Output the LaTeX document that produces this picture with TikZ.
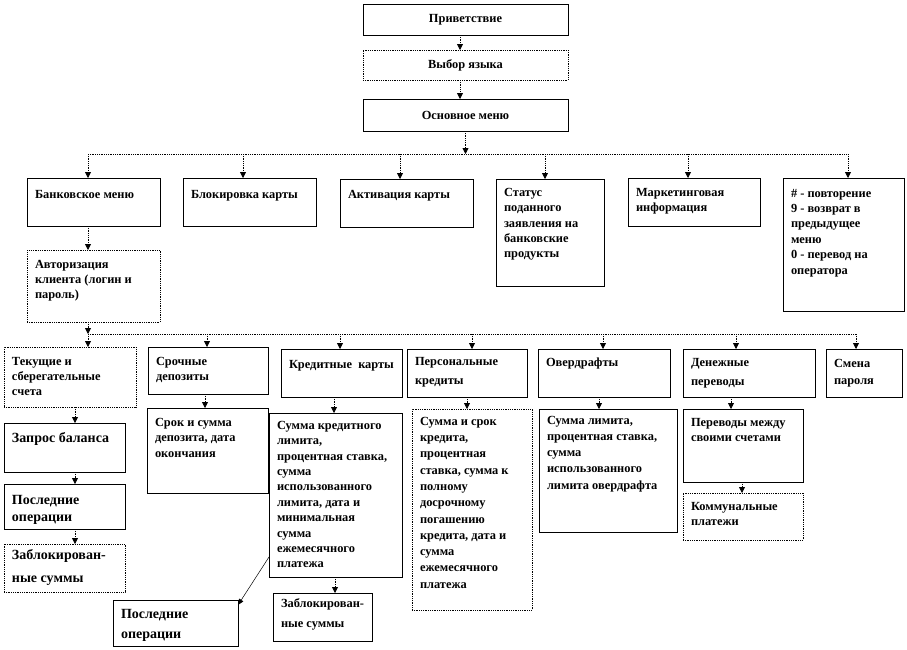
\documentclass[tikz,border=0pt]{standalone}
\usepackage{fontspec}
\setmainfont{Liberation Serif}
\usetikzlibrary{arrows.meta}
\tikzset{
  box/.style={draw, line width=0.7pt, inner xsep=8pt, inner ysep=0pt, outer sep=0pt,
    anchor=north west, font=\bfseries\fontsize{12.4}{15.4}\selectfont},
  bigbox/.style={box, font=\bfseries\fontsize{14}{17}\selectfont},
  lead/.style={font=\bfseries\fontsize{12.4}{#1}\selectfont},
  biglead/.style={font=\bfseries\fontsize{14}{#1}\selectfont},
  dotbox/.style={dash pattern=on 1pt off 0.8pt},
  conn/.style={line width=0.8pt, dash pattern=on 1pt off 0.8pt},
  arr/.style={conn, -{Triangle[width=6pt,length=6pt]}},
  link/.style={line width=0.5pt, -{Triangle[width=5pt,length=6pt]}},
}
\newcommand{\tbox}[8][]{\node[box,#1] (#2) at (#3,#4)
  {\parbox[c][\dimexpr #6pt-#4pt\relax][t]{\dimexpr #5pt-#3pt-16pt\relax}{\vspace*{#7pt}\raggedright #8}};}
\newcommand{\cbox}[7][]{\node[box,#1] (#2) at (#3,#4)
  {\parbox[c][\dimexpr #6pt-#4pt\relax][c]{\dimexpr #5pt-#3pt-16pt\relax}{\centering #7}};}
\begin{document}
\begin{tikzpicture}[x=1pt,y=-1pt]
\useasboundingbox (0,0) rectangle (907,649);

% top
\cbox{pr}{363}{4}{568}{35}{Приветствие}
\cbox[dotbox]{lang}{363}{50}{568}{80}{Выбор языка}
\cbox{main}{363}{99}{568}{131}{Основное меню}

% level 2
\tbox{bank}{27}{178}{160}{226}{12}{Банковское меню}
\tbox{block}{183}{178}{316}{226}{12}{Блокировка карты}
\tbox{activ}{340}{179}{473}{227}{11}{Активация карты}
\tbox{status}{496}{179}{604}{286}{9}{Статус\\поданного\\заявления на\\банковские\\продукты}
\tbox{market}{628}{178}{760}{226}{10}{Маркетинговая\\информация}
\tbox{keys}{783}{178}{904}{311}{11}{\# - повторение\\9 - возврат в\\предыдущее\\меню\\0 - перевод на\\оператора}

\tbox[dotbox]{auth}{27}{250}{160}{322}{10}{Авторизация\\клиента (логин и\\пароль)}

% level 3
\tbox[dotbox]{cur}{4}{347}{136}{407}{10}{Текущие и\\сберегательные\\счета}
\tbox{term}{148}{347}{268}{394}{10}{Срочные\\депозиты}
\tbox{cc}{281}{349}{402}{397}{11}{Кредитные\ \ карты}
\tbox[lead=19]{pers}{407}{349}{527}{397}{8}{Персональные\\кредиты}
\tbox{over}{538}{349}{670}{397}{9}{Овердрафты}
\tbox[lead=19]{transf}{683}{349}{815}{397}{9}{Денежные\\переводы}
\tbox[lead=17]{pwd}{826}{349}{902}{397}{10}{Смена\\пароля}

% level 4
\tbox[bigbox]{bal}{4}{423}{125}{472}{9}{Запрос баланса}
\tbox[bigbox]{last1}{4}{484}{125}{529}{11}{Последние\\операции}
\tbox[bigbox,dotbox,biglead=23]{blk1}{4}{544}{125}{592}{5}{\mbox{Заблокирован-}\\ные суммы}
\tbox{termd}{147}{408}{268}{493}{10}{Срок и сумма\\депозита, дата\\окончания}
\tbox{ccd}{269}{413}{402}{577}{8}{Сумма кредитного\\лимита,\\процентная ставка,\\сумма\\использованного\\лимита, дата и\\минимальная\\сумма\\ежемесячного\\платежа}
\tbox[dotbox,lead=16.3]{persd}{412}{409}{532}{610}{8}{Сумма и срок\\кредита,\\процентная\\ставка, сумма к\\полному\\досрочному\\погашению\\кредита, дата и\\сумма\\ежемесячного\\платежа}
\tbox[lead=16.2]{overd}{539}{409}{677}{532}{7}{Сумма лимита,\\процентная ставка,\\сумма\\использованного\\лимита овердрафта}
\tbox{own}{683}{409}{803}{482}{9}{Переводы между\\своими счетами}
\tbox[dotbox]{util}{683}{493}{803}{540}{9}{Коммунальные\\платежи}
\tbox[lead=20]{blk2}{273}{593}{372}{641}{6}{\mbox{Заблокирован-}\\ные суммы}
\tbox[bigbox,biglead=20]{last2}{113}{600}{238}{646}{9}{Последние\\операции}

% connectors: top chain
\draw[arr] (460,0 |- pr.south) -- (460,0 |- lang.north);
\draw[arr] (460,0 |- lang.south) -- (460,0 |- main.north);
\coordinate (b1L) at (88,154);
\coordinate (b1R) at (848,154);
\coordinate (b1b) at (243,154);
\coordinate (b1c) at (400,154);
\coordinate (b1d) at (545,154);
\coordinate (b1e) at (688,154);
\draw[arr] (main.south) -- (main.south |- b1L);
\draw[conn] (b1L) -- (b1R);
\draw[arr] (b1L) -- (b1L |- bank.north);
\draw[arr] (b1b) -- (b1b |- block.north);
\draw[arr] (b1c) -- (b1c |- activ.north);
\draw[arr] (b1d) -- (b1d |- status.north);
\draw[arr] (b1e) -- (b1e |- market.north);
\draw[arr] (b1R) -- (b1R |- keys.north);

\draw[arr] (b1L |- bank.south) -- (b1L |- auth.north);

% second bus
\coordinate (b2L) at (88,334);
\coordinate (b2R) at (856,334);
\coordinate (b2b) at (207,334);
\coordinate (b2c) at (340,334);
\coordinate (b2d) at (472,334);
\coordinate (b2e) at (603,334);
\coordinate (b2f) at (736,334);
\draw[arr] (b2L |- auth.south) -- (b2L);
\draw[conn] (b2L) -- (b2R);
\draw[arr] (b2L) -- (b2L |- cur.north);
\draw[arr] (b2b) -- (b2b |- term.north);
\draw[arr] (b2c) -- (b2c |- cc.north);
\draw[arr] (b2d) -- (b2d |- pers.north);
\draw[arr] (b2e) -- (b2e |- over.north);
\draw[arr] (b2f) -- (b2f |- transf.north);
\draw[arr] (b2R) -- (b2R |- pwd.north);

% lower chains
\draw[arr] (75,0 |- cur.south) -- (75,0 |- bal.north);
\draw[arr] (75,0 |- bal.south) -- (75,0 |- last1.north);
\draw[arr] (75,0 |- last1.south) -- (75,0 |- blk1.north);
\draw[arr] (205,0 |- term.south) -- (205,0 |- termd.north);
\draw[arr] (334,0 |- cc.south) -- (334,0 |- ccd.north);
\draw[arr] (467,0 |- pers.south) -- (467,0 |- persd.north);
\draw[arr] (599,0 |- over.south) -- (599,0 |- overd.north);
\draw[arr] (731,0 |- transf.south) -- (731,0 |- own.north);
\draw[arr] (742,0 |- own.south) -- (742,0 |- util.north);
\draw[arr] (335,0 |- ccd.south) -- (335,0 |- blk2.north);
\draw[link] (0,557 -| ccd.west) -- (0,605 -| last2.east);
\end{tikzpicture}
\end{document}
